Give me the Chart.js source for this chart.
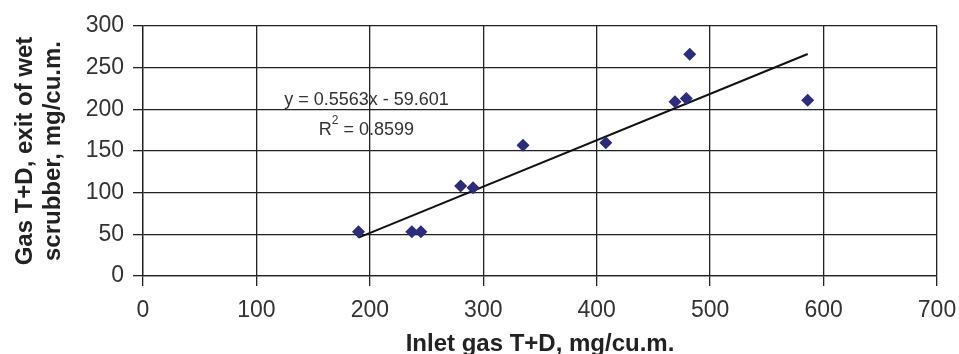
<!DOCTYPE html>
<html>
<head>
<meta charset="utf-8">
<script src="https://cdn.jsdelivr.net/npm/chart.js@4.4.1/dist/chart.umd.min.js"></script>
<style>
  html, body { margin: 0; padding: 0; background: #fff; }
  #grafico { display: block; }
</style>
</head>
<body>
<canvas id="grafico" width="959" height="354"></canvas>
<script>
// valores
const entradaTD = [190, 237, 245, 280, 291, 335, 408, 469, 479, 482, 586];
const salidaTD = [53, 53, 53, 108, 106, 157, 160, 209, 213, 266, 211];
const pendiente = 0.5563;
const ordenada = -59.601;
const r2 = "0.8599";
const ticksX = [0, 100, 200, 300, 400, 500, 600, 700];
const ticksY = [0, 50, 100, 150, 200, 250, 300];

const puntos = entradaTD.map((x, i) => ({ x, y: salidaTD[i] }));
const xMin = Math.min(...entradaTD);
const xMax = Math.max(...entradaTD);
const tendencia = [xMin, xMax].map((x) => ({ x, y: pendiente * x + ordenada }));

const FUENTE = "'Liberation Sans', Arial, sans-serif";
const colorGrilla = "#222";

const etiquetaEcuacion = {
  id: "etiquetaEcuacion",
  afterDatasetsDraw(chart) {
    const { ctx, scales } = chart;
    const cx = scales.x.getPixelForValue(197);
    const y1 = scales.y.getPixelForValue(211);
    const y2 = scales.y.getPixelForValue(175);
    ctx.save();
    ctx.fillStyle = "#333";
    ctx.textBaseline = "middle";
    ctx.font = `18px ${FUENTE}`;
    ctx.textAlign = "center";
    ctx.fillText(`y = ${pendiente}x - ${Math.abs(ordenada)}`, cx, y1);

    const resto = ` = ${r2}`;
    ctx.font = `18px ${FUENTE}`;
    const anchoR = ctx.measureText("R").width;
    const anchoResto = ctx.measureText(resto).width;
    ctx.font = `12px ${FUENTE}`;
    const anchoDos = ctx.measureText("2").width;
    let x = cx - (anchoR + anchoDos + anchoResto) / 2;
    ctx.textAlign = "left";
    ctx.font = `18px ${FUENTE}`;
    ctx.fillText("R", x, y2);
    x += anchoR;
    ctx.font = `12px ${FUENTE}`;
    ctx.fillText("2", x, y2 - 9);
    x += anchoDos;
    ctx.font = `18px ${FUENTE}`;
    ctx.fillText(resto, x, y2);
    ctx.restore();
  },
};

new Chart(document.querySelector("#grafico"), {
  type: "scatter",
  data: {
    datasets: [
      {
        label: "Datos",
        data: puntos,
        pointStyle: "rectRot",
        pointRadius: 6.5,
        pointHoverRadius: 6.5,
        backgroundColor: "#2b2b7f",
        borderColor: "#2b2b7f",
        borderWidth: 0,
      },
      {
        label: "Tendencia",
        type: "line",
        data: tendencia,
        borderColor: "#111",
        borderWidth: 2,
        pointRadius: 0,
        fill: false,
        tension: 0,
      },
    ],
  },
  options: {
    responsive: false,
    animation: false,
    layout: { padding: { top: 26, right: 22, left: 0, bottom: 0 } },
    plugins: { legend: { display: false }, tooltip: { enabled: false } },
    scales: {
      x: {
        type: "linear",
        min: 0,
        max: 700,
        afterBuildTicks: (escala) => { escala.ticks = ticksX.map((value) => ({ value })); },
        afterFit: (escala) => {
          escala.height = 78;
          escala.paddingLeft = 0;
          escala.paddingRight = 0;
        },
        grid: { color: colorGrilla, lineWidth: 1.3, tickLength: 10, tickColor: colorGrilla },
        border: { color: colorGrilla, width: 1.3 },
        ticks: { color: "#333", font: { family: FUENTE, size: 23 }, padding: 11, maxRotation: 0 },
        title: {
          display: true,
          text: "Inlet gas T+D, mg/cu.m.",
          color: "#222",
          font: { family: FUENTE, size: 24, weight: "bold", lineHeight: 1.2 },
          padding: { top: 0, bottom: -5 },
        },
      },
      y: {
        type: "linear",
        min: 0,
        max: 300,
        afterBuildTicks: (escala) => { escala.ticks = ticksY.map((value) => ({ value })); },
        afterFit: (escala) => {
          escala.width = 143;
          escala.paddingTop = 0;
          escala.paddingBottom = 0;
        },
        grid: { color: colorGrilla, lineWidth: 1.3, tickLength: 10, tickColor: colorGrilla },
        border: { color: colorGrilla, width: 1.3 },
        ticks: { color: "#333", font: { family: FUENTE, size: 23 }, padding: 9 },
        title: {
          display: true,
          text: ["Gas T+D, exit of wet", "scrubber, mg/cu.m."],
          color: "#222",
          font: { family: FUENTE, size: 24, weight: "bold", lineHeight: 1.1667 },
          padding: { top: 11, bottom: 0 },
        },
      },
    },
  },
  plugins: [etiquetaEcuacion],
});
</script>
</body>
</html>
